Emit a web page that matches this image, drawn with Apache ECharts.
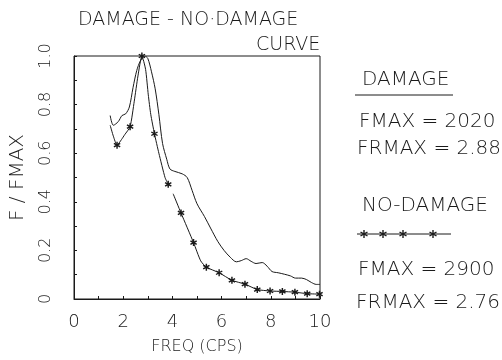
<!DOCTYPE html>
<html>
<head>
<meta charset="utf-8">
<script src="https://cdn.jsdelivr.net/npm/echarts@6/dist/echarts.min.js"></script>
<style>
	* { margin: 0; padding: 0; }
	body { background: #fff; }
	#main { width: 502px; height: 360px; }
</style>
</head>
<body>
<div id="main"></div>
<script>
	// damage curve (plain line)
	var damageX = [1.47, 1.6, 1.8, 1.95, 2.1, 2.25, 2.4, 2.55, 2.7, 2.88, 3.0, 3.15, 3.3, 3.45, 3.6, 3.77, 3.9, 4.1, 4.4, 4.6, 4.8, 5.0, 5.3, 5.55, 5.85, 6.1, 6.35, 6.6, 6.8, 7.0, 7.2, 7.4, 7.65, 7.85, 8.05, 8.3, 8.55, 8.8, 9.0, 9.25, 9.45, 9.65, 9.85, 10.0];
	var damageY = [0.755, 0.715, 0.73, 0.755, 0.762, 0.79, 0.87, 0.94, 0.98, 1.0, 0.99, 0.935, 0.865, 0.76, 0.64, 0.575, 0.535, 0.525, 0.515, 0.5, 0.447, 0.392, 0.34, 0.292, 0.236, 0.2, 0.172, 0.153, 0.158, 0.166, 0.155, 0.146, 0.15, 0.135, 0.113, 0.108, 0.102, 0.095, 0.086, 0.086, 0.08, 0.068, 0.06, 0.06];

	// no-damage curve, '-' = break in the line, star = 1 draws an asterisk
	var noDamageX = [1.47, 1.6, 1.75, 1.93, 2.06, 2.28, 2.45, 2.6, 2.76, 2.91, 3.02, 3.12, 3.27, 3.45, 3.7, 3.83, 3.93, 4.03, 4.35, 4.86, 5.15, 5.38, 5.9, 6.42, 6.95, 7.45, 7.97, 8.47, 8.98, 9.48, 9.98];
	var noDamageY = [0.715, 0.67, 0.633, 0.656, 0.676, 0.709, 0.814, 0.918, 1.0, 0.945, 0.84, 0.76, 0.68, 0.6, 0.5, 0.472, '-', 0.433, 0.354, 0.232, 0.157, 0.131, 0.108, 0.077, 0.061, 0.039, 0.033, 0.031, 0.028, 0.022, 0.02];
	var noDamageStar = [0, 0, 1, 0, 0, 1, 0, 0, 1, 0, 0, 0, 1, 0, 0, 1, 0, 0, 1, 1, 0, 1, 1, 1, 1, 1, 1, 1, 1, 1, 1];

	var yTickLabels = ['0', '0.2', '0.4', '0.6', '0.8', '1.0'];

	var FONT = 'DejaVu Sans';
	var INK = '#1a1a1a';
	// asterisk made of three bars
	var STAR = 'path://M8,0 L12,0 L12,20 L8,20 Z M0.34,6.73 L2.34,3.27 L19.66,13.27 L17.66,16.73 Z M2.34,16.73 L0.34,13.27 L17.66,3.27 L19.66,6.73 Z';

	var damageData = damageX.map(function (x, i) { return [x, damageY[i]]; });
	var noDamageData = noDamageX.map(function (x, i) {
		var item = { value: [x, noDamageY[i]] };
		if (!noDamageStar[i]) item.symbol = 'none';
		return item;
	});

	function txt(str, x, y, size) {
		return {
			type: 'text', x: x, y: y,
			style: { text: str, fill: INK, font: '200 ' + size + 'px "' + FONT + '"' }
		};
	}
	// small asterisk for the legend sample
	function star(cx, cy) {
		var r = 4, s = { stroke: INK, lineWidth: 1.4 };
		return {
			type: 'group',
			children: [
				{ type: 'line', shape: { x1: cx, y1: cy - r, x2: cx, y2: cy + r }, style: s },
				{ type: 'line', shape: { x1: cx - 3.5, y1: cy - 2, x2: cx + 3.5, y2: cy + 2 }, style: s },
				{ type: 'line', shape: { x1: cx - 3.5, y1: cy + 2, x2: cx + 3.5, y2: cy - 2 }, style: s }
			]
		};
	}

	var chart = echarts.init(document.getElementById('main'));
	chart.setOption({
		animation: false,
		backgroundColor: '#fff',
		grid: {
			left: 66, right: 182, top: 56, bottom: 50,
			show: true, borderColor: INK, borderWidth: 1
		},
		xAxis: {
			type: 'value', min: 0, max: 10, interval: 2,
			name: 'FREQ (CPS)', nameLocation: 'middle', nameGap: 40,
			nameTextStyle: { fontFamily: FONT, fontWeight: 200, fontSize: 16, color: INK },
			axisLine: { show: true, lineStyle: { color: INK, width: 1 } },
			axisTick: { show: true, inside: true, length: 3, lineStyle: { color: INK } },
			minorTick: { show: true, splitNumber: 2, length: 3, lineStyle: { color: INK } },
			splitLine: { show: false },
			axisLabel: { fontFamily: FONT, fontWeight: 200, fontSize: 18, color: INK, margin: 14 }
		},
		yAxis: {
			type: 'value', min: 0, max: 1, interval: 0.2, offset: 14,
			name: 'F / FMAX', nameLocation: 'middle', nameGap: 32, nameRotate: 90,
			nameTextStyle: { fontFamily: FONT, fontWeight: 200, fontSize: 20, color: INK },
			axisLine: { show: true, lineStyle: { color: INK, width: 1 } },
			axisTick: { show: true, inside: true, length: 3, lineStyle: { color: INK } },
			minorTick: { show: true, splitNumber: 2, length: 3, lineStyle: { color: INK } },
			splitLine: { show: false },
			axisLabel: {
				rotate: 90, fontFamily: FONT, fontWeight: 200, fontSize: 16, color: INK, margin: 6,
				formatter: function (v) { return yTickLabels[Math.round(v * 5)]; }
			}
		},
		series: [
			{
				name: 'DAMAGE', type: 'line', data: damageData,
				smooth: 0.3, showSymbol: false,
				lineStyle: { color: INK, width: 1 }
			},
			{
				name: 'NO-DAMAGE', type: 'line', data: noDamageData,
				smooth: 0.2, symbol: STAR, symbolSize: 7,
				itemStyle: { color: INK },
				lineStyle: { color: INK, width: 1 }
			}
		],
		graphic: [
			txt('DAMAGE - NO·DAMAGE', 78, 11, 19),
			txt('CURVE', 256, 36, 19),
			txt('DAMAGE', 362, 70, 20),
			{ type: 'line', shape: { x1: 355, y1: 95, x2: 453, y2: 95 }, style: { stroke: INK, lineWidth: 1 } },
			txt('FMAX = 2020', 359, 112, 20),
			txt('FRMAX = 2.88', 357, 139, 20),
			txt('NO-DAMAGE', 362, 196, 20),
			{ type: 'line', shape: { x1: 357, y1: 234, x2: 451, y2: 234 }, style: { stroke: INK, lineWidth: 1 } },
			star(364, 234), star(383, 234), star(403, 234), star(433, 234),
			txt('FMAX = 2900', 358, 260, 20),
			txt('FRMAX = 2.76', 356, 293, 20)
		]
	});
</script>
</body>
</html>
